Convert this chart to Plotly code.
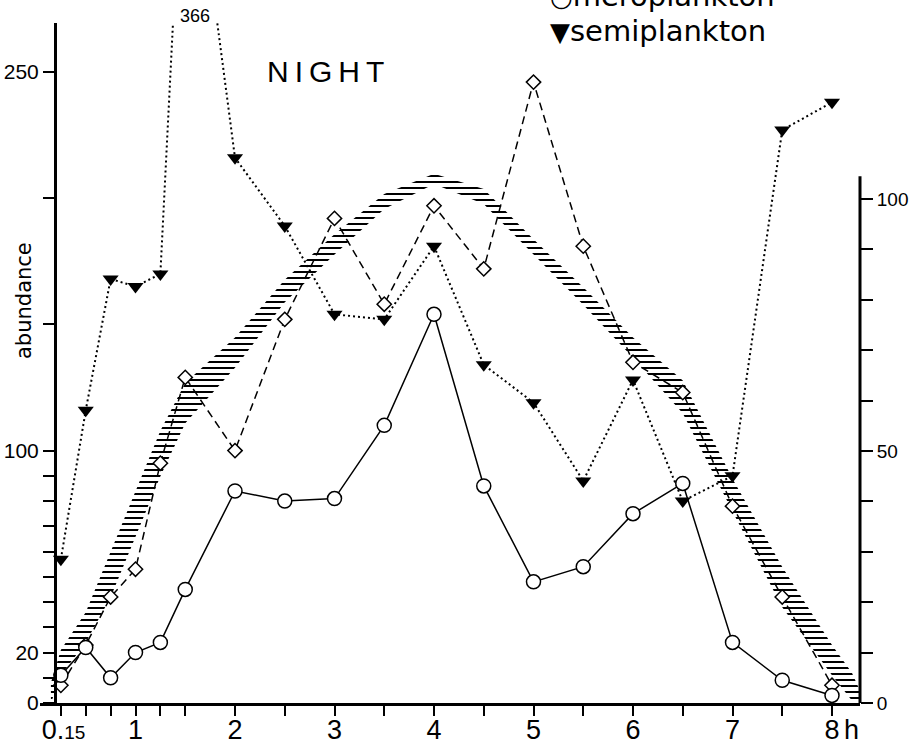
import plotly.graph_objects as go

# ---------------- data ----------------
hours = [0.25, 0.5, 0.75, 1.0, 1.25, 1.5, 2.0, 2.5, 3.0, 3.5, 4.0,
         4.5, 5.0, 5.5, 6.0, 6.5, 7.0, 7.5, 8.0]
meroplankton = [11, 22, 10, 20, 24, 45, 84, 80, 81, 110, 154,
                86, 48, 54, 75, 87, 24, 9, 3]
holoplankton = [7, 23, 42, 53, 95, 129, 100, 152, 192, 158, 197,
                172, 246, 181, 135, 123, 78, 42, 7]
semiplankton = [57, 116, 168, 165, 170, 366, 216, 189, 154, 152, 181,
                134, 119, 88, 128, 80, 90, 227, 238]

# hatched band (right-hand scale)
band_hours = [0.15, 0.25, 0.5, 0.75, 1.0, 1.25, 1.5, 2.0, 2.5, 3.0, 3.5, 4.0,
              4.5, 5.0, 5.5, 6.0, 6.5, 7.0, 7.5, 8.0, 8.2, 8.28]
band_upper = [4, 10.5, 18, 30, 42, 54, 63.5, 72.5, 84, 93, 101, 105,
              102, 92, 82.5, 72.5, 64, 44.5, 27, 11.5, 6, 2.5]
band_lower = [0, 5.5, 12, 21, 33, 45, 55.5, 66.5, 79.5, 89, 98, 103,
              99, 89, 79, 68.5, 57.5, 38, 19, 5.5, 0.5, 0]

x_tick_vals = [0.25, 0.5, 0.75, 1, 1.25, 1.5, 2, 2.5, 3, 3.5, 4, 4.5,
               5, 5.5, 6, 6.5, 7, 7.5, 8]
x_tick_text = ["\u20090.<span style='font-size:19px'>15</span>", "", "", "1", "", "",
               "2", "", "3", "", "4", "", "5", "", "6", "", "7", "", "8"]
left_tick_vals = [0, 10, 20, 30, 40, 50, 60, 70, 80, 90, 100, 150, 200, 250]
left_tick_text = ["0", "", "20", "", "", "", "", "", "", "", "100", "", "", "250"]
right_tick_vals = [0, 10, 20, 30, 40, 50, 60, 70, 80, 90, 100]
right_tick_text = ["0", "", "", "", "", "50", "", "", "", "", "100"]

# ---------------- layout geometry ----------------
W, H = 917, 751
L, R, T, B = 40, 57, 23, 48
PW, PH = W - L - R, H - T - B


def pxx(px):
    return (px - L) / PW


def pxy(py):
    return (H - B - py) / PH


fig = go.Figure()

# band on the base axis (right scale) so it sits beneath the series
fig.add_trace(go.Scatter(x=band_hours, y=band_lower, mode="lines",
                         line=dict(width=0, color="black"),
                         yaxis="y", hoverinfo="skip", showlegend=False))
fig.add_trace(go.Scatter(x=band_hours, y=band_upper, mode="lines",
                         line=dict(width=0, color="black"),
                         fill="tonexty", fillcolor="rgba(0,0,0,0)",
                         fillpattern=dict(shape="-", size=6, solidity=0.34,
                                          fgcolor="black", fgopacity=1,
                                          bgcolor="rgba(0,0,0,0)"),
                         yaxis="y", hoverinfo="skip", showlegend=False))

fig.add_trace(go.Scatter(x=hours, y=semiplankton, name="semiplankton",
                         mode="lines+markers", yaxis="y2",
                         line=dict(color="black", width=2, dash="2px,3px"),
                         marker=dict(symbol="triangle-down", size=14, color="black",
                                     line=dict(width=0))))
fig.add_trace(go.Scatter(x=hours, y=holoplankton, name="holoplankton",
                         mode="lines+markers", yaxis="y2",
                         line=dict(color="black", width=1.5, dash="8px,5px"),
                         marker=dict(symbol="diamond", size=11, color="white",
                                     line=dict(color="black", width=1.5))))
fig.add_trace(go.Scatter(x=hours, y=meroplankton, name="meroplankton",
                         mode="lines+markers", yaxis="y2",
                         line=dict(color="black", width=1.5),
                         marker=dict(symbol="circle", size=14, color="white",
                                     line=dict(color="black", width=1.5))))

axis_font = dict(family="Liberation Sans", size=27, color="black")

fig.update_layout(
    width=W, height=H,
    margin=dict(l=L, r=R, t=T, b=B, pad=0),
    paper_bgcolor="white", plot_bgcolor="white",
    showlegend=False,
    xaxis=dict(range=[(L - 36) / 99.5, (W - R - 36) / 99.5],
               showgrid=False, zeroline=False, automargin=False,
               showline=True, linewidth=3, linecolor="black",
               ticks="outside", ticklen=10, tickwidth=2, tickcolor="black",
               ticklabelstandoff=-9,
               tickvals=x_tick_vals, ticktext=x_tick_text,
               tickfont=axis_font, anchor="y"),
    yaxis=dict(range=[0, PH / 5.04], side="right", anchor="x",
               showgrid=False, zeroline=False, showline=False, automargin=False,
               ticks="outside", ticklen=12, tickwidth=2, tickcolor="black",
               tickvals=right_tick_vals, ticktext=right_tick_text,
               tickfont=dict(family="Liberation Sans", size=19, color="black")),
    yaxis2=dict(range=[0, PH / 2.524], overlaying="y", side="left",
                anchor="free", position=pxx(55), automargin=False,
                showgrid=False, zeroline=False,
                showline=True, linewidth=3, linecolor="black",
                ticks="outside", ticklen=11, tickwidth=2, tickcolor="black",
                tickvals=left_tick_vals, ticktext=left_tick_text,
                tickfont=dict(family="Liberation Sans", size=21, color="black")),
    shapes=[dict(type="line", xref="paper", yref="y", x0=1, x1=1, y0=0, y1=104.5,
                 line=dict(color="black", width=3))],
)

annotations = [
    dict(x=hours[5], y=pxy(16), xref="x", yref="paper", xshift=10,
         xanchor="center", yanchor="middle",
         text=str(semiplankton[5]), showarrow=False,
         font=dict(family="Liberation Sans", size=18, color="black")),
    dict(x=pxx(325), y=pxy(72), xref="paper", yref="paper",
         xanchor="center", yanchor="middle",
         text="N\u2009I\u2009G\u2009H\u2009T", showarrow=False,
         font=dict(family="Liberation Sans", size=30, color="black")),
    dict(x=pxx(24), y=pxy(301), xref="paper", yref="paper", textangle=-90,
         xanchor="center", yanchor="middle",
         text="abundance", showarrow=False,
         font=dict(family="DejaVu Sans", size=21, color="black")),
    dict(x=pxx(548), y=pxy(-4), xref="paper", yref="paper",
         xanchor="left", yanchor="middle",
         text="<span style='font-size:26px'>\u25CB</span>meroplankton", showarrow=False,
         font=dict(family="DejaVu Sans", size=29, color="black")),
    dict(x=pxx(548), y=pxy(31), xref="paper", yref="paper",
         xanchor="left", yanchor="middle",
         text="<span style='font-size:26px'>\u25BC</span>semiplankton", showarrow=False,
         font=dict(family="DejaVu Sans", size=29, color="black")),
    dict(x=pxx(851), y=pxy(730), xref="paper", yref="paper",
         xanchor="center", yanchor="middle",
         text="h", showarrow=False, font=axis_font),
]
fig.update_layout(annotations=annotations)

fig.write_html("out.html",
               config={"displayModeBar": False},
               post_script="document.body.style.margin='0';"
                           "document.body.style.overflow='hidden';")
